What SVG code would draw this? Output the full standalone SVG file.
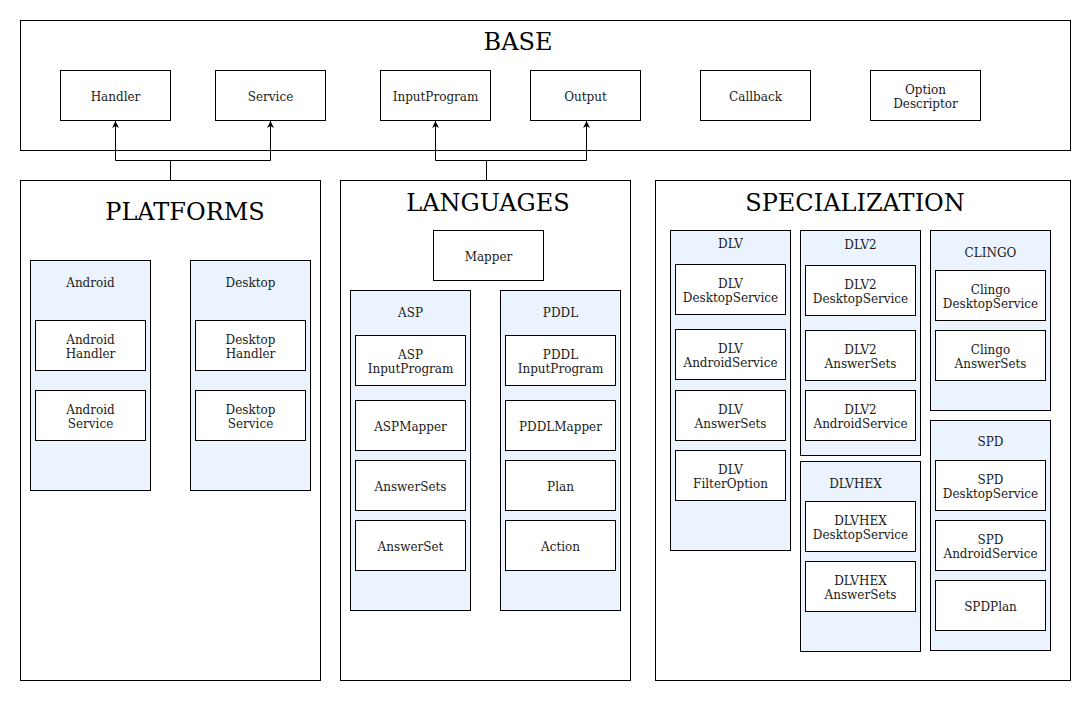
<svg xmlns="http://www.w3.org/2000/svg" width="1091" height="701" viewBox="0 0 1091 701">
<style>
rect{stroke:#000;stroke-width:1}
.c{fill:#fff}
.g{fill:#ebf3ff}
.n{fill:#fff}
text{font-family:"DejaVu Serif",serif;font-size:12px;fill:#1a1a1a;text-anchor:middle}
.t{font-size:24px;fill:#000}
.e{fill:none;stroke:#000;stroke-width:1}
</style>
<defs>
<marker id="a" viewBox="0 0 10 10" refX="10" refY="5" markerWidth="7" markerHeight="7" orient="auto" markerUnits="userSpaceOnUse">
<path d="M0,0 L10,5 L0,10 L3,5 Z" fill="#000"/>
</marker>
</defs>
<g transform="translate(0,1)">
<g id="base">
<rect class="c" x="20.5" y="19.5" width="1050" height="130"/>
<text class="t" x="518" y="49">BASE</text>
</g>
<g id="handler"><rect class="n" x="60.5" y="69.5" width="110" height="50"/><text x="115.5" y="100">Handler</text></g>
<g id="service"><rect class="n" x="215.5" y="69.5" width="110" height="50"/><text x="270.5" y="100">Service</text></g>
<g id="inputprogram"><rect class="n" x="380.5" y="69.5" width="110" height="50"/><text x="435.5" y="100">InputProgram</text></g>
<g id="output"><rect class="n" x="530.5" y="69.5" width="110" height="50"/><text x="585.5" y="100">Output</text></g>
<g id="callback"><rect class="n" x="700.5" y="69.5" width="110" height="50"/><text x="755.5" y="100">Callback</text></g>
<g id="optiondescriptor"><rect class="n" x="870.5" y="69.5" width="110" height="50"/><text x="925.5" y="93">Option</text><text x="925.5" y="107">Descriptor</text></g>

<g id="platforms">
<rect class="c" x="20.5" y="179.5" width="300" height="500"/>
<text class="t" x="185" y="219">PLATFORMS</text>
</g>
<g id="android"><rect class="g" x="30.5" y="259.5" width="120" height="230"/><text x="90.5" y="286">Android</text></g>
<g id="androidhandler"><rect class="n" x="35.5" y="319.5" width="110" height="50"/><text x="90.5" y="343">Android</text><text x="90.5" y="357">Handler</text></g>
<g id="androidservice"><rect class="n" x="35.5" y="389.5" width="110" height="50"/><text x="90.5" y="413">Android</text><text x="90.5" y="427">Service</text></g>
<g id="desktop"><rect class="g" x="190.5" y="259.5" width="120" height="230"/><text x="250.5" y="286">Desktop</text></g>
<g id="desktophandler"><rect class="n" x="195.5" y="319.5" width="110" height="50"/><text x="250.5" y="343">Desktop</text><text x="250.5" y="357">Handler</text></g>
<g id="desktopservice"><rect class="n" x="195.5" y="389.5" width="110" height="50"/><text x="250.5" y="413">Desktop</text><text x="250.5" y="427">Service</text></g>

<g id="languages">
<rect class="c" x="340.5" y="179.5" width="290" height="500"/>
<text class="t" x="488" y="210">LANGUAGES</text>
</g>
<g id="mapper"><rect class="n" x="433.5" y="229.5" width="110" height="50"/><text x="488.5" y="260">Mapper</text></g>
<g id="asp"><rect class="g" x="350.5" y="289.5" width="120" height="320"/><text x="410.5" y="316">ASP</text></g>
<g id="aspinputprogram"><rect class="n" x="355.5" y="334.5" width="110" height="50"/><text x="410.5" y="358">ASP</text><text x="410.5" y="372">InputProgram</text></g>
<g id="aspmapper"><rect class="n" x="355.5" y="399.5" width="110" height="50"/><text x="410.5" y="430">ASPMapper</text></g>
<g id="answersets"><rect class="n" x="355.5" y="459.5" width="110" height="50"/><text x="410.5" y="490">AnswerSets</text></g>
<g id="answerset"><rect class="n" x="355.5" y="519.5" width="110" height="50"/><text x="410.5" y="550">AnswerSet</text></g>
<g id="pddl"><rect class="g" x="500.5" y="289.5" width="120" height="320"/><text x="560.5" y="316">PDDL</text></g>
<g id="pddlinputprogram"><rect class="n" x="505.5" y="334.5" width="110" height="50"/><text x="560.5" y="358">PDDL</text><text x="560.5" y="372">InputProgram</text></g>
<g id="pddlmapper"><rect class="n" x="505.5" y="399.5" width="110" height="50"/><text x="560.5" y="430">PDDLMapper</text></g>
<g id="plan"><rect class="n" x="505.5" y="459.5" width="110" height="50"/><text x="560.5" y="490">Plan</text></g>
<g id="action"><rect class="n" x="505.5" y="519.5" width="110" height="50"/><text x="560.5" y="550">Action</text></g>

<g id="specialization">
<rect class="c" x="655.5" y="179.5" width="415" height="500"/>
<text class="t" x="855" y="210">SPECIALIZATION</text>
</g>
<g id="dlv"><rect class="g" x="670.5" y="229.5" width="120" height="320"/><text x="730.5" y="247">DLV</text></g>
<g id="dlvdesktopservice"><rect class="n" x="675.5" y="263.5" width="110" height="50"/><text x="730.5" y="287">DLV</text><text x="730.5" y="301">DesktopService</text></g>
<g id="dlvandroidservice"><rect class="n" x="675.5" y="328.5" width="110" height="50"/><text x="730.5" y="352">DLV</text><text x="730.5" y="366">AndroidService</text></g>
<g id="dlvanswersets"><rect class="n" x="675.5" y="389.5" width="110" height="50"/><text x="730.5" y="413">DLV</text><text x="730.5" y="427">AnswerSets</text></g>
<g id="dlvfilteroption"><rect class="n" x="675.5" y="449.5" width="110" height="50"/><text x="730.5" y="473">DLV</text><text x="730.5" y="487">FilterOption</text></g>

<g id="dlv2"><rect class="g" x="800.5" y="229.5" width="120" height="225"/><text x="860.5" y="248">DLV2</text></g>
<g id="dlv2desktopservice"><rect class="n" x="805.5" y="264.5" width="110" height="50"/><text x="860.5" y="288">DLV2</text><text x="860.5" y="302">DesktopService</text></g>
<g id="dlv2answersets"><rect class="n" x="805.5" y="329.5" width="110" height="50"/><text x="860.5" y="353">DLV2</text><text x="860.5" y="367">AnswerSets</text></g>
<g id="dlv2androidservice"><rect class="n" x="805.5" y="389.5" width="110" height="50"/><text x="860.5" y="413">DLV2</text><text x="860.5" y="427">AndroidService</text></g>

<g id="dlvhex"><rect class="g" x="800.5" y="460.5" width="120" height="190"/><text x="855.5" y="487">DLVHEX</text></g>
<g id="dlvhexdesktopservice"><rect class="n" x="805.5" y="500.5" width="110" height="50"/><text x="860.5" y="524">DLVHEX</text><text x="860.5" y="538">DesktopService</text></g>
<g id="dlvhexanswersets"><rect class="n" x="805.5" y="560.5" width="110" height="50"/><text x="860.5" y="584">DLVHEX</text><text x="860.5" y="598">AnswerSets</text></g>

<g id="clingo"><rect class="g" x="930.5" y="229.5" width="120" height="180"/><text x="990.5" y="256">CLINGO</text></g>
<g id="clingodesktopservice"><rect class="n" x="935.5" y="269.5" width="110" height="50"/><text x="990.5" y="293">Clingo</text><text x="990.5" y="307">DesktopService</text></g>
<g id="clingoanswersets"><rect class="n" x="935.5" y="329.5" width="110" height="50"/><text x="990.5" y="353">Clingo</text><text x="990.5" y="367">AnswerSets</text></g>

<g id="spd"><rect class="g" x="930.5" y="419.5" width="120" height="230"/><text x="990.5" y="445">SPD</text></g>
<g id="spddesktopservice"><rect class="n" x="935.5" y="459.5" width="110" height="50"/><text x="990.5" y="483">SPD</text><text x="990.5" y="497">DesktopService</text></g>
<g id="spdandroidservice"><rect class="n" x="935.5" y="519.5" width="110" height="50"/><text x="990.5" y="543">SPD</text><text x="990.5" y="557">AndroidService</text></g>
<g id="spdplan"><rect class="n" x="935.5" y="579.5" width="110" height="50"/><text x="990.5" y="610">SPDPlan</text></g>

<g id="connectors">
<path class="e" d="M170.5,179.5 V159.5 H115.5 V120" marker-end="url(#a)"/>
<path class="e" d="M170.5,159.5 H270.5 V120" marker-end="url(#a)"/>
<path class="e" d="M486.5,179.5 V159.5 H435.5 V120" marker-end="url(#a)"/>
<path class="e" d="M486.5,159.5 H586.5 V120" marker-end="url(#a)"/>
</g>
</g>
</svg>
